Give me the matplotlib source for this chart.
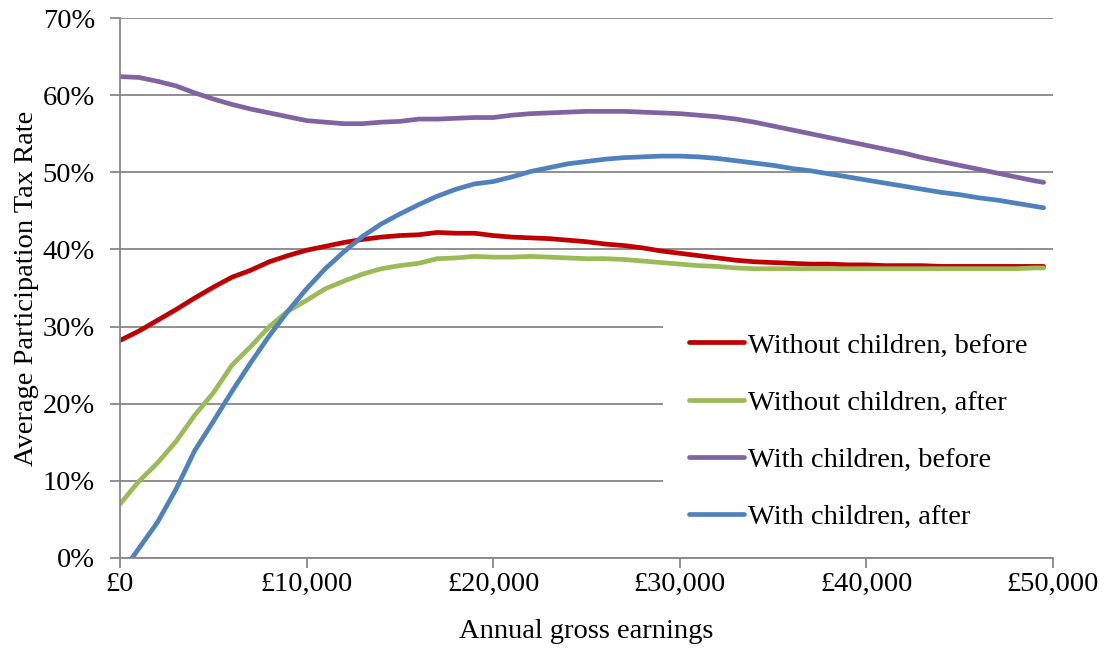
import matplotlib.pyplot as plt
from matplotlib.ticker import FuncFormatter

# annual gross earnings (GBP)
earnings = list(range(0, 50000, 1000)) + [49500]

# average participation tax rate (%)
no_kids_before = [28.2, 29.4, 30.8, 32.2, 33.7, 35.1, 36.4, 37.3, 38.4, 39.2,
                  39.9, 40.4, 40.9, 41.3, 41.6, 41.8, 41.9, 42.2, 42.1, 42.1,
                  41.8, 41.6, 41.5, 41.4, 41.2, 41.0, 40.7, 40.5, 40.2, 39.8,
                  39.5, 39.2, 38.9, 38.6, 38.4, 38.3, 38.2, 38.1, 38.1, 38.0,
                  38.0, 37.9, 37.9, 37.9, 37.8, 37.8, 37.8, 37.8, 37.8, 37.8, 37.8]
no_kids_after = [7.0, 9.9, 12.3, 15.1, 18.5, 21.4, 25.0, 27.4, 30.0, 32.0,
                 33.4, 34.9, 35.9, 36.8, 37.5, 37.9, 38.2, 38.8, 38.9, 39.1,
                 39.0, 39.0, 39.1, 39.0, 38.9, 38.8, 38.8, 38.7, 38.5, 38.3,
                 38.1, 37.9, 37.8, 37.6, 37.5, 37.5, 37.5, 37.5, 37.5, 37.5,
                 37.5, 37.5, 37.5, 37.5, 37.5, 37.5, 37.5, 37.5, 37.5, 37.6, 37.6]
kids_before = [62.4, 62.3, 61.8, 61.2, 60.3, 59.5, 58.8, 58.2, 57.7, 57.2,
               56.7, 56.5, 56.3, 56.3, 56.5, 56.6, 56.9, 56.9, 57.0, 57.1,
               57.1, 57.4, 57.6, 57.7, 57.8, 57.9, 57.9, 57.9, 57.8, 57.7,
               57.6, 57.4, 57.2, 56.9, 56.5, 56.0, 55.5, 55.0, 54.5, 54.0,
               53.5, 53.0, 52.5, 51.9, 51.4, 50.9, 50.4, 49.9, 49.4, 48.9, 48.7]
kids_after = [-2.2, 1.2, 4.6, 8.9, 13.9, 17.7, 21.6, 25.3, 28.8, 32.0,
              34.9, 37.5, 39.7, 41.7, 43.3, 44.6, 45.8, 46.9, 47.8, 48.5,
              48.8, 49.4, 50.1, 50.6, 51.1, 51.4, 51.7, 51.9, 52.0, 52.1,
              52.1, 52.0, 51.8, 51.5, 51.2, 50.9, 50.5, 50.2, 49.8, 49.4,
              49.0, 48.6, 48.2, 47.8, 47.4, 47.1, 46.7, 46.4, 46.0, 45.6, 45.4]

labels = ["Without children, before", "Without children, after",
          "With children, before", "With children, after"]
colors = ["#C00000", "#9BBB59", "#8064A2", "#4F81BD"]

plt.rcParams["font.family"] = ["Liberation Serif", "DejaVu Serif"]
plt.rcParams["font.size"] = 20.5

fig = plt.figure(figsize=(11.07, 6.48), dpi=100)
ax = fig.add_axes([0.1084, 0.1389, 0.8428, 0.8333])

for vals, lab, col in zip([no_kids_before, no_kids_after, kids_before, kids_after], labels, colors):
    ax.plot(earnings, vals, color=col, lw=3.4, label=lab, solid_capstyle="round")

ax.set_xlim(0, 50000)
ax.set_ylim(0, 70)
ax.set_xticks(range(0, 50001, 10000))
ax.set_yticks(range(0, 71, 10))
ax.xaxis.set_major_formatter(FuncFormatter(lambda v, p: "£{:,.0f}".format(v)))
ax.yaxis.set_major_formatter(FuncFormatter(lambda v, p: "{:.0f}%".format(v)))

ax.grid(axis="y", color="#878787", lw=1.3)
ax.set_axisbelow(True)
for s in ["top", "right"]:
    ax.spines[s].set_visible(False)
for s in ["left", "bottom"]:
    ax.spines[s].set_color("#878787")
    ax.spines[s].set_linewidth(1.3)
ax.tick_params(axis="both", color="#878787", width=1.3, length=7, direction="out")
ax.tick_params(axis="x", pad=3)
ax.tick_params(axis="y", pad=11)

ax.set_xlabel("Annual gross earnings", labelpad=16)
ax.set_ylabel("Average Participation Tax Rate", labelpad=3)

# legend box sits over the gridlines in the lower right
leg = ax.legend(loc="upper left", bbox_to_anchor=(0.582, 0, 0.42, 0.465),
                mode="expand", borderaxespad=0,
                frameon=True, fancybox=False, framealpha=1, edgecolor="white",
                handlelength=1.93, handletextpad=0.14, labelspacing=1.1,
                borderpad=0.9)
leg.get_frame().set_linewidth(0)
leg.set_zorder(5)

plt.savefig("out.png", dpi=100)
